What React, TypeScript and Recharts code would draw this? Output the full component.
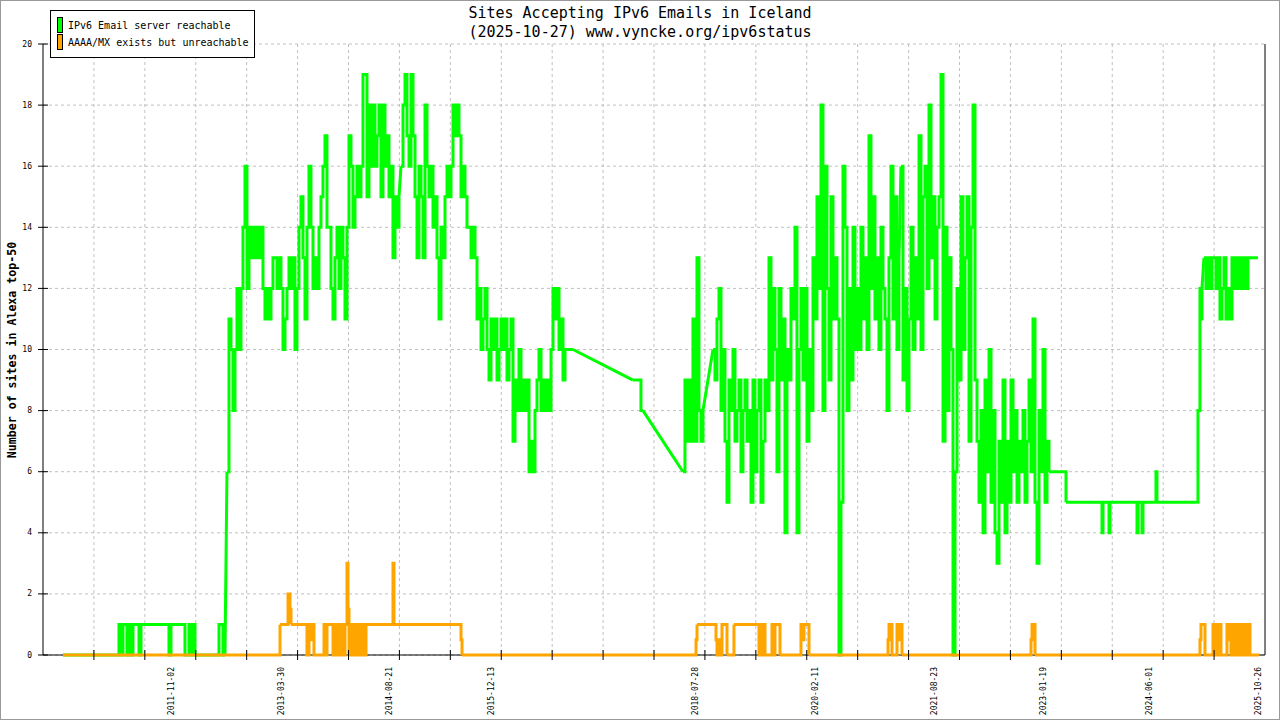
import React from 'react';
import { LineChart, Line, XAxis, YAxis, CartesianGrid } from 'recharts';

// ---- data -------------------------------------------------------------
// Each run: [start (decimal year), sampling step (years), values]
type Run = [number, number, number[]];

const STEP_2 = 0.02572; // ~9.4 days
const STEP_1 = 0.01286; // ~4.7 days

const reachable2010 = [
  0, 0, 0, 0, 0, 0, 0, 0, 0, 0, 0, 0, 0, 0, 0, 0, 0, 0, 0, 0, 0, 0, 0, 0, 0, 0, 0, 0,
  1, 0, 1, 1, 0, 1, 0, 1, 1, 1,
  0, 1,
  1, 1, 1, 1, 1, 1, 1, 1, 1, 1, 1, 1, 1,
  0, 1, 1,
  1, 1, 1, 1, 1,
  0, 0,
  1, 0, 1, 0,
  0, 0, 0, 0, 0, 0, 0, 0, 0, 0, 0,
  1, 1,
  0, 0,
];

const reachable2012 = [
  6, 11, 10, 8, 10, 12, 10, 12, 14, 16, 12, 14, 13, 14, 13, 14, 13, 14, 12, 11,
  12, 11, 12, 13, 13, 12, 13, 12, 10, 11, 12, 13, 12, 13, 10, 12, 14, 15, 13, 11,
  14, 16, 14, 12, 13, 12, 14, 15, 16, 17, 14, 14, 12, 11, 13, 14, 12, 14, 13, 11,
  14, 17, 16, 14, 15, 16, 15, 16, 19, 19, 15, 18, 16, 18, 16, 17, 18, 15, 18, 16,
  17, 15, 16, 13, 15, 14, 15,
];

const reachable2014 = [
  16, 18, 19, 17, 16, 19, 17, 15, 13, 16, 15, 13, 18, 16, 15, 16, 14, 15, 13, 11,
  14, 13, 15, 16, 15, 16, 18, 17, 18, 17, 15, 16, 15, 14, 14, 13, 14, 13, 11, 12,
  10, 11, 12, 10, 9, 11, 10, 11, 9, 10, 11, 10, 11, 9, 10, 11, 7, 9, 8, 10,
  8, 9, 8, 9, 6, 7, 6, 8, 9, 10, 8, 9, 8, 9, 8, 10, 12, 11, 12, 10,
  11, 9, 10, 10, 10, 10, 10,
];

const reachable2017 = [9, 9, 9, 9, 8, 8];

const reachable2018 = [6, 9, 7, 9, 7, 11, 7, 13, 8, 7, 8];

const reachable2019 = [
  10, 9, 11, 12, 8, 10, 7, 5, 9, 8, 10, 7, 8, 9, 6, 8, 9, 7, 8, 5,
  9, 6, 8, 9, 5, 7, 9, 8, 13, 9, 12, 10, 6, 12, 9, 11, 4, 10, 9, 12,
  11, 14, 4, 10, 12, 9, 12, 7, 10, 8, 13, 11, 15, 12, 18, 8, 16, 12, 9, 15,
  11, 13, 11, 0, 5, 16, 14, 8, 12, 9, 14, 10, 12, 10, 14, 11, 13, 10, 17, 12,
  15, 11, 13, 10, 14, 12, 11, 8, 13, 16, 11, 15, 10, 13,
];

const reachable2021 = [
  16, 9, 12, 8, 11, 14, 10, 13, 11, 17, 10, 15, 16, 12, 18, 13, 15, 11, 14, 15,
  19, 7, 14, 8, 13, 10, 0, 6, 12, 9, 15, 10, 13, 15, 7, 14, 18, 9, 7, 5,
  8, 4, 9, 6, 10, 5, 8, 4, 3, 7, 5, 9, 4, 7, 5, 9, 6, 8, 5, 7,
  6, 8, 5, 7, 9, 6, 11, 5, 3, 8, 6, 10, 5, 7, 6,
];

const reachable2025 = [
  13, 12, 13, 12, 13, 13, 12, 13, 11, 12, 13, 11, 12, 11, 13, 12, 13, 12, 13, 12,
  13, 12, 13, 13, 13, 13, 13, 13,
];

const reachableRuns: Run[] = [
  [2010.44, STEP_2, reachable2010],
  [2012.549, STEP_2, reachable2012],
  [2014.787, STEP_2, reachable2014],
  [2017.77, STEP_2, reachable2017],
  [2018.413, STEP_2, reachable2018],
  [2018.799, STEP_2, reachable2019],
  [2021.217, STEP_2, reachable2021],
  [2023.326, STEP_1, [6, 5]],
  [2023.789, STEP_1, [5, 4, 5]],
  [2023.879, STEP_1, [5, 4, 5]],
  [2024.239, STEP_1, [5, 4, 5]],
  [2024.303, STEP_1, [5, 4, 5]],
  [2024.483, STEP_1, [5, 6, 5]],
  [2025.023, STEP_1, [5, 8, 8, 12, 11, 12]],
  [2025.113, STEP_2, reachable2025],
];

const unreachable2013 = [
  0, 1, 1, 0, 1, 1, 1, 1, 1, 1, 0, 1, 0, 1, 0, 1, 1, 0, 1, 0,
  1, 0, 1, 1, 3, 1.5, 0, 1, 0, 1, 0, 1, 1, 0, 1, 0, 1, 0, 1, 0,
  1, 1, 0, 1, 1,
];

const unreachable2025 = [
  0, 0.5, 1, 1, 1, 1, 0, 0, 0, 0, 0, 0, 0, 0, 1, 1, 0, 0, 0, 1,
  0.5, 1, 0, 0, 0, 0, 0, 0, 1, 0.5, 1, 1, 0, 1, 1, 0, 0, 0, 1, 0.5,
  1, 0, 0, 1, 1, 1, 0, 0, 1, 0.5, 1, 0, 0, 0, 0, 0, 0, 0, 0, 0, 0,
];

const unreachableRuns: Run[] = [
  [2010.44, STEP_1, [0]],
  [2013.218, STEP_1, [0, 1]],
  [2013.321, STEP_1, [1, 2, 2, 1.5, 1]],
  [2013.565, STEP_1, [1, 0, 0, 1, 1, 1, 0.5, 1, 0, 0]],
  [2013.784, STEP_1, unreachable2013],
  [2014.671, STEP_1, [1, 3, 1]],
  [2015.546, STEP_1, [1, 0.5, 0]],
  [2018.568, STEP_1, [0, 0.5, 1]],
  [2018.825, STEP_1, [1, 0.5, 0, 0, 0, 0.5, 0, 1, 1, 1, 1, 1, 0]],
  [2019.056, STEP_1, [0, 1]],
  [2019.378, STEP_1, [1, 0, 0.5, 1, 1, 0, 1, 0, 0]],
  [2019.545, STEP_1, [0, 1, 1, 0, 1, 1, 1, 1, 1, 0]],
  [2019.918, STEP_1, [0, 1, 1, 0.5, 1, 1, 1, 1, 1, 0]],
  [2021.037, STEP_1, [0, 0.5, 1, 1, 1, 0, 0, 0, 0, 0, 1, 1, 0.5, 1, 1, 0]],
  [2022.876, STEP_1, [0, 0.5, 1, 1, 1, 0]],
  [2025.049, STEP_1, unreachable2025],
];

const xLabelDates = [
  '2011-11-02', '2013-03-30', '2014-08-21', '2015-12-13', '2018-07-28',
  '2020-02-11', '2021-08-23', '2023-01-19', '2024-06-01', '2025-10-26',
];

const yTicks = [0, 2, 4, 6, 8, 10, 12, 14, 16, 18, 20];

const X_MIN = 2010.183;
const X_MAX = 2025.898;
const GRID_DIVISIONS = 24;

// ---- helpers ----------------------------------------------------------
type Pt = { t: number; v: number | null };

const toYear = (s: string) => {
  const [y, m, d] = s.split('-').map(Number);
  return 1970 + Date.UTC(y, m - 1, d) / 86400000 / 365.25;
};

// samples inside each run, with a break (null) between runs
const expandRuns = (runs: Run[]) => {
  const out: Pt[] = [];
  runs.forEach(([t0, dt, vals]) => {
    vals.forEach((v, i) => out.push({ t: t0 + i * dt, v }));
    out.push({ t: t0 + (vals.length - 1) * dt, v: null });
  });
  return out;
};

// straight joins between the end of one run and the start of the next
const joinRuns = (runs: Run[]) => {
  const out: Pt[] = [];
  for (let k = 0; k < runs.length - 1; k++) {
    const [t0, dt, vals] = runs[k];
    const [t1, , next] = runs[k + 1];
    out.push({ t: t0 + (vals.length - 1) * dt, v: vals[vals.length - 1] });
    out.push({ t: t1, v: next[0] });
    out.push({ t: t1, v: null });
  }
  return out;
};

const reachableData = expandRuns(reachableRuns);
const reachableJoins = joinRuns(reachableRuns);
const unreachableData = expandRuns(unreachableRuns);
const unreachableJoins = joinRuns(unreachableRuns);

const labelTicks = xLabelDates.map((d) => ({ t: toYear(d), label: d }));
const gridTicks: number[] = [];
for (let k = 1; k < GRID_DIVISIONS; k++) gridTicks.push(X_MIN + (k * (X_MAX - X_MIN)) / GRID_DIVISIONS);
const allXTicks = [...gridTicks, ...labelTicks.map((l) => l.t)].sort((a, b) => a - b);

const MONO = '"DejaVu Sans Mono", "Liberation Mono", monospace';
const GREEN = '#00ff00';
const ORANGE = '#ffa500';

const renderXTick = (p: any) => {
  const { x, y, payload } = p;
  const lab = labelTicks.find((l) => Math.abs(l.t - payload.value) < 1e-7);
  if (lab) {
    const ty = y + 12;
    return (
      <text
        x={x}
        y={ty}
        transform={`rotate(-90 ${x} ${ty})`}
        textAnchor="end"
        dy="0.35em"
        fontSize={8}
        fontFamily={MONO}
        fill="#000"
      >
        {lab.label}
      </text>
    );
  }
  return <line x1={x} y1={y - 5} x2={x} y2={y + 5} stroke="#000" strokeWidth={1} />;
};

const renderYTick = (p: any) => {
  const { x, y, payload } = p;
  return (
    <g>
      <line x1={x - 5} y1={y} x2={x + 5} y2={y} stroke="#000" strokeWidth={1} />
      <text x={x - 11} y={y} textAnchor="end" dominantBaseline="central" fontSize={8} fontFamily={MONO} fill="#000">
        {payload.value}
      </text>
    </g>
  );
};

const verticalGen = (props: any) => {
  const { xAxis, offset } = props || {};
  if (xAxis && typeof xAxis.scale === 'function') return gridTicks.map((t) => xAxis.scale(t));
  return gridTicks.map((t) => offset.left + ((t - X_MIN) / (X_MAX - X_MIN)) * offset.width);
};

// baseline (the x axis line) drawn beneath the series
const baselineGen = (props: any) => {
  const { yAxis, offset } = props || {};
  if (yAxis && typeof yAxis.scale === 'function') return [yAxis.scale(0)];
  return [offset.top + offset.height];
};

const lineCommon = {
  dataKey: 'v',
  strokeWidth: 3,
  dot: false,
  activeDot: false,
  isAnimationActive: false,
  connectNulls: false,
} as const;

export default function App() {
  return (
    <div style={{ position: 'absolute', left: 0, top: 0, width: 1280, height: 720, background: '#fff', overflow: 'hidden' }}>
      <LineChart width={1280} height={720} margin={{ top: 44, right: 0, bottom: 0, left: 3 }}>
        <CartesianGrid stroke="#c0c0c0" strokeDasharray="3 3" verticalCoordinatesGenerator={verticalGen} />
        <CartesianGrid vertical={false} stroke="#000" horizontalCoordinatesGenerator={baselineGen} />
        <XAxis
          type="number"
          dataKey="t"
          domain={[X_MIN, X_MAX]}
          ticks={allXTicks}
          interval={0}
          tickSize={0}
          tickMargin={0}
          tickLine={false}
          height={65}
          axisLine={false}
          tick={renderXTick}
          allowDataOverflow
        />
        <YAxis
          type="number"
          domain={[0, 20]}
          ticks={yTicks}
          interval={0}
          width={40}
          tickSize={0}
          tickMargin={0}
          tickLine={false}
          axisLine={{ stroke: '#000' }}
          tick={renderYTick}
        />
        <YAxis yAxisId="r" orientation="right" type="number" domain={[0, 20]} width={15} tick={false} tickLine={false} axisLine={{ stroke: '#000' }} />
        <Line {...lineCommon} data={reachableData} type="stepAfter" stroke={GREEN} />
        <Line {...lineCommon} data={reachableJoins} type="linear" stroke={GREEN} />
        <Line {...lineCommon} data={unreachableData} type="stepAfter" stroke={ORANGE} />
        <Line {...lineCommon} data={unreachableJoins} type="linear" stroke={ORANGE} />
      </LineChart>

      {/* title */}
      <div style={{ position: 'absolute', left: 0, width: 1280, top: 4, textAlign: 'center', fontFamily: MONO, fontSize: 15, lineHeight: '19px', color: '#000' }}>
        <div>Sites Accepting IPv6 Emails in Iceland</div>
        <div>(2025-10-27) www.vyncke.org/ipv6status</div>
      </div>

      {/* y-axis label */}
      <div
        style={{
          position: 'absolute',
          left: 12,
          top: 350,
          transform: 'translate(-50%, -50%) rotate(-90deg)',
          fontFamily: MONO,
          fontWeight: 'bold',
          fontSize: 11.6,
          whiteSpace: 'nowrap',
          color: '#000',
        }}
      >
        Number of sites in Alexa top-50
      </div>

      {/* legend */}
      <div style={{ position: 'absolute', left: 50, top: 10, width: 205, height: 48, boxSizing: 'border-box', border: '1px solid #000', background: '#fff' }} />
      <div style={{ position: 'absolute', left: 57, top: 17, width: 6, height: 16, boxSizing: 'border-box', border: '1px solid #000', background: GREEN }} />
      <div style={{ position: 'absolute', left: 57, top: 34, width: 6, height: 16, boxSizing: 'border-box', border: '1px solid #000', background: ORANGE }} />
      <div style={{ position: 'absolute', left: 68, top: 19, fontFamily: MONO, fontSize: 10, lineHeight: '14px', whiteSpace: 'nowrap', color: '#000' }}>
        IPv6 Email server reachable
      </div>
      <div style={{ position: 'absolute', left: 68, top: 36, fontFamily: MONO, fontSize: 10, lineHeight: '14px', whiteSpace: 'nowrap', color: '#000' }}>
        AAAA/MX exists but unreachable
      </div>

      {/* outer frame */}
      <div style={{ position: 'absolute', left: 0, top: 0, width: 1280, height: 720, boxSizing: 'border-box', border: '1px solid #999', pointerEvents: 'none' }} />
    </div>
  );
}
